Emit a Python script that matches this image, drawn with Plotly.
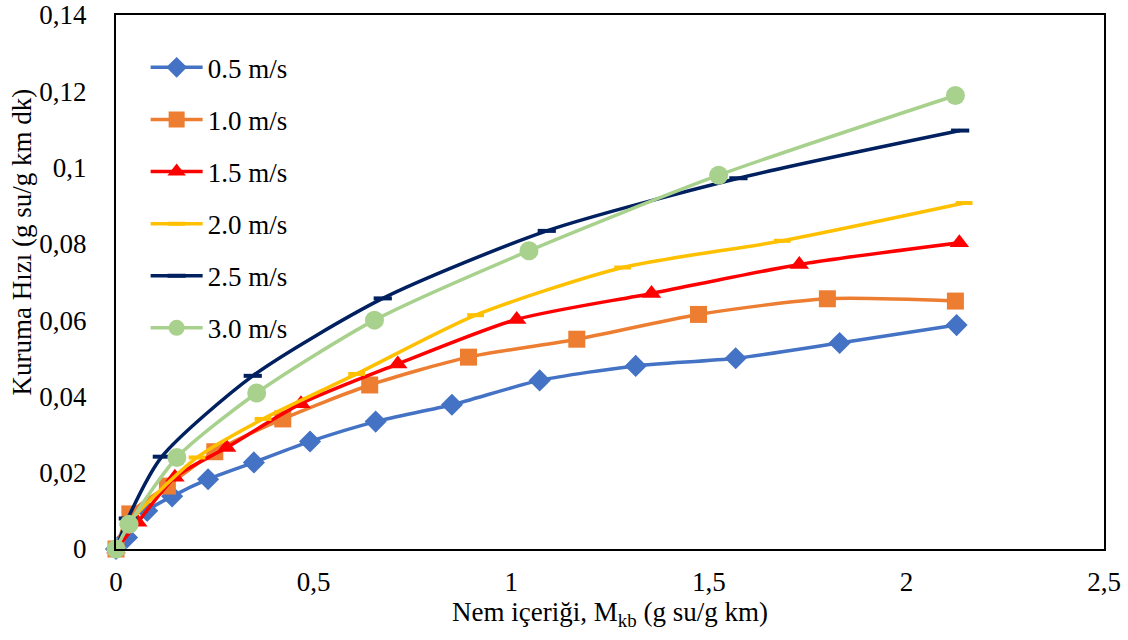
import plotly.graph_objects as go

# Moisture content (g water / g dry matter) and drying rate for each air velocity
x_05 = [0, 0.028, 0.079, 0.142, 0.233, 0.349, 0.491, 0.657, 0.850, 1.072, 1.315, 1.568, 1.831, 2.127]
y_05 = [0, 0.0030, 0.0100, 0.0138, 0.0183, 0.0227, 0.0282, 0.0334, 0.0378, 0.0442, 0.0480, 0.0500, 0.0540, 0.0587]

x_10 = [0, 0.035, 0.130, 0.250, 0.422, 0.642, 0.892, 1.166, 1.474, 1.800, 2.124]
y_10 = [0, 0.0092, 0.0165, 0.0255, 0.0341, 0.0430, 0.0503, 0.0550, 0.0615, 0.0656, 0.0650]

x_15 = [0, 0.055, 0.149, 0.280, 0.468, 0.713, 1.014, 1.355, 1.729, 2.134]
y_15 = [0, 0.0070, 0.0188, 0.0266, 0.0381, 0.0485, 0.0602, 0.0670, 0.0746, 0.0803]

x_20 = [0, 0.030, 0.205, 0.372, 0.609, 0.910, 1.282, 1.686, 2.146]
y_20 = [0, 0.0065, 0.0240, 0.0341, 0.0459, 0.0613, 0.0738, 0.0808, 0.0907]

x_25 = [0, 0.030, 0.116, 0.346, 0.675, 1.090, 1.575, 2.136]
y_25 = [0, 0.0080, 0.0242, 0.0454, 0.0657, 0.0834, 0.0972, 0.1097]

x_30 = [0, 0.033, 0.154, 0.356, 0.654, 1.045, 1.525, 2.124]
y_30 = [0, 0.0065, 0.0240, 0.0409, 0.0600, 0.0782, 0.0980, 0.1189]

series_names = ["0.5 m/s", "1.0 m/s", "1.5 m/s", "2.0 m/s", "2.5 m/s", "3.0 m/s"]
x_title = "Nem içeriği, M<sub>kb</sub> (g su/g km)"
y_title = "Kuruma Hızı (g su/g km dk)"

FONT = "'Liberation Serif', 'Times New Roman', serif"
FS = 27

styles = [
    dict(color="#4472C4", symbol="diamond", size=17),
    dict(color="#ED7D31", symbol="square", size=17),
    dict(color="#FF0000", symbol="triangle-up", size=17),
    dict(color="#FFC000", symbol="line-ew", size=12),
    dict(color="#002060", symbol="line-ew", size=13),
    dict(color="#A9D18E", symbol="circle", size=19),
]

data = [(x_05, y_05), (x_10, y_10), (x_15, y_15), (x_20, y_20), (x_25, y_25), (x_30, y_30)]

fig = go.Figure()
for name, (xs, ys), st in zip(series_names, data, styles):
    if st["symbol"] == "line-ew":
        marker = dict(symbol="line-ew", size=st["size"],
                      line=dict(color=st["color"], width=4), color=st["color"])
    else:
        marker = dict(symbol=st["symbol"], size=st["size"], color=st["color"],
                      line=dict(width=0))
    fig.add_trace(go.Scatter(
        x=xs, y=ys, name=name, mode="lines+markers",
        line=dict(color=st["color"], width=3.5, shape="spline", smoothing=0.7),
        marker=marker, cliponaxis=False, legendgroup=name,
    ))

fig.update_layout(
    width=1128, height=640,
    margin=dict(l=116, r=24, t=15, b=91),
    paper_bgcolor="white", plot_bgcolor="white",
    separators=",.",
    font=dict(family=FONT, size=FS, color="black"),
    showlegend=True,
    legend=dict(x=0.03, y=0.947, xanchor="left", yanchor="top",
                bgcolor="rgba(0,0,0,0)", font=dict(family=FONT, size=FS),
                tracegroupgap=14, itemwidth=52),
    annotations=[dict(
        text=y_title, textangle=-90, showarrow=False,
        xref="paper", yref="paper", x=-0.0951, y=0.574,
        xanchor="center", yanchor="middle",
        font=dict(family=FONT, size=FS, color="black"),
    )],
)

fig.update_xaxes(
    range=[0, 2.5], dtick=0.5, tick0=0, automargin=False,
    showline=True, mirror=True, linecolor="black", linewidth=2,
    showgrid=False, zeroline=False, ticks="", ticklabelstandoff=8,
    ticklabeloverflow="allow",
    tickfont=dict(family=FONT, size=FS, color="black"),
    title=dict(text=x_title, font=dict(family=FONT, size=FS), standoff=6),
)
fig.update_yaxes(
    range=[0, 0.14], dtick=0.02, tick0=0, automargin=False,
    showline=True, mirror=True, linecolor="black", linewidth=2,
    showgrid=False, zeroline=False, ticks="", ticklabelstandoff=22,
    ticklabeloverflow="allow",
    tickfont=dict(family=FONT, size=FS, color="black"),
)

fig.write_html("out.html")
